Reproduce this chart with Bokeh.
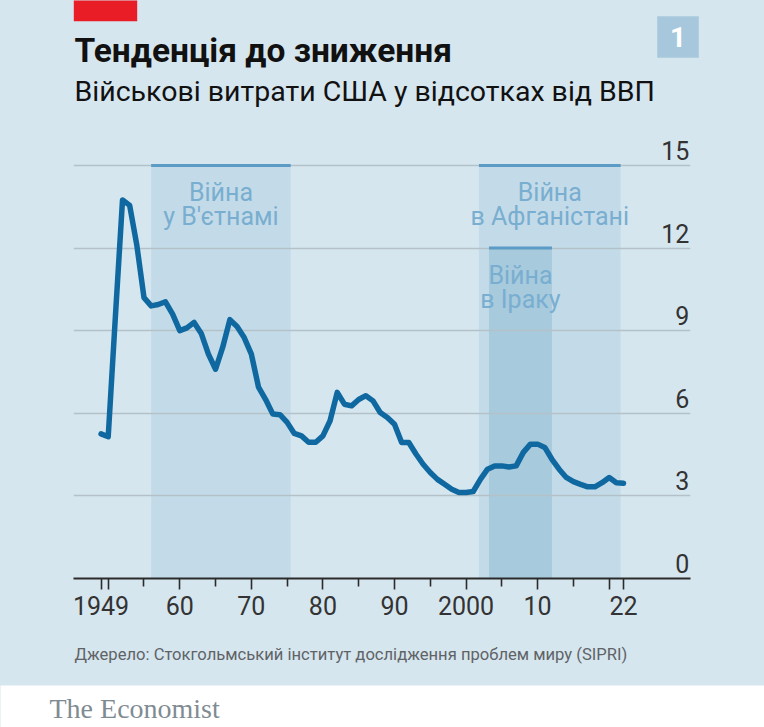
from bokeh.plotting import figure
from bokeh.layouts import column
from bokeh.models import Range1d, FixedTicker, Grid, ColumnDataSource
from bokeh.core.properties import value
from bokeh.embed import file_html
from bokeh.resources import INLINE

# ---------------- data ----------------
years = list(range(1949, 2023))
gdp_share = [
    5.25, 5.15, 9.5, 13.75, 13.55, 12.1, 10.2, 9.9, 9.95, 10.05,   # 1949-1958
    9.6, 9.0, 9.1, 9.3, 8.9, 8.15, 7.6, 8.4, 9.4, 9.15,             # 1959-1968
    8.75, 8.15, 6.95, 6.5, 5.97, 5.95, 5.67, 5.27, 5.18, 4.95,      # 1969-1978
    4.95, 5.18, 5.73, 6.76, 6.33, 6.27, 6.5, 6.64, 6.45, 6.03,      # 1979-1988
    5.85, 5.6, 4.94, 4.94, 4.52, 4.15, 3.85, 3.6, 3.42, 3.24,       # 1989-1998
    3.12, 3.12, 3.16, 3.6, 3.97, 4.09, 4.09, 4.05, 4.09, 4.58,      # 1999-2008
    4.88, 4.88, 4.76, 4.33, 3.97, 3.67, 3.52, 3.42, 3.33, 3.33,     # 2009-2018
    3.48, 3.67, 3.48, 3.46,                                         # 2019-2022
]

war_line1 = ["Війна", "Війна", "Війна"]
war_line2 = ["у В'єтнамі", "в Афганістані", "в Іраку"]
war_start = [1956.0, 2001.8, 2003.2]
war_end = [1975.5, 2021.6, 2012.0]
war_top = [15, 15, 12]

x_major_ticks = [1949, 1950, 1960, 1970, 1980, 1990, 2000, 2010, 2020, 2022]
x_major_labels = ["1949", "", "60", "70", "80", "90", "2000", "10", "", "22"]
x_minor_ticks = [1955, 1965, 1975, 1985, 1995, 2005, 2015]
y_ticks = [0, 3, 6, 9, 12, 15]
y_tick_labels = ["0", "3", "6", "9", "12", "15"]

title_text = "Тенденція до зниження"
subtitle_text = "Військові витрати США у відсотках від ВВП"
source_text = "Джерело: Стокгольмський інститут дослідження проблем миру (SIPRI)"
brand_text = "The Economist"
badge_text = "1"

# ---------------- style ----------------
BG = "#d6e6ef"
SHADE = "#c3dbe8"
SHADE_DARK = "#a7cadd"
TOPLINE = "#5b9bc6"
LINE = "#0f69a0"
GRID = "#b5c1c8"
WARTXT = "#79aed0"
FONT = "Roboto"
W = 764


def panel(height, y0, y1):
    f = figure(width=W, height=height, x_range=Range1d(0, W), y_range=Range1d(y1, y0),
               x_axis_type=None, y_axis_type=None, min_border=0, frame_align=False,
               output_backend="svg", toolbar_location=None,
               background_fill_color=BG, border_fill_color=BG, outline_line_color=None)
    f.xgrid.visible = False
    f.ygrid.visible = False
    return f


# ---------------- header ----------------
header = panel(125, 0, 125)
header.quad(left=[73.3], right=[136.7], top=[-2], bottom=[20.7], fill_color="#e91d25", line_color=None)
header.quad(left=[656.7], right=[698.3], top=[15.7], bottom=[57.3], fill_color="#a7c8dc", line_color=None)
header.text(x=[677.5], y=[36.5], text=[badge_text], text_font=value(FONT), text_font_style="bold",
            text_font_size="28px", text_color="white", text_align="center", text_baseline="alphabetic")
header.text(x=[74], y=[49.5], text=[title_text], text_font=value(FONT), text_font_style="bold",
            text_font_size="33.5px", text_color="#111111", text_baseline="alphabetic")
header.text(x=[74], y=[91], text=[subtitle_text], text_font=value(FONT),
            text_font_size="28.5px", text_color="#111111", text_baseline="alphabetic")

# ---------------- main chart ----------------
p = figure(width=W, height=510, x_range=Range1d(1945.15, 2031.36), y_range=Range1d(0, 16.27),
           y_axis_type=None, min_border_left=73, min_border_right=74, min_border_top=5,
           min_border_bottom=57, frame_align=False, output_backend="svg", toolbar_location=None,
           background_fill_color=BG, border_fill_color=BG, outline_line_color=None)
p.xgrid.visible = False

wars = ColumnDataSource(dict(
    left=war_start, right=war_end, top=war_top,
    center=[(a + b) / 2 for a, b in zip(war_start, war_end)],
    line1=war_line1, line2=war_line2,
    fill=[SHADE, SHADE, SHADE_DARK],
))
p.quad(left="left", right="right", top="top", bottom=0, fill_color="fill", line_color=None,
       source=wars, level="image")
p.add_layout(Grid(dimension=1, ticker=FixedTicker(ticks=y_ticks[1:]),
                  grid_line_color=GRID, grid_line_width=1.6))
p.segment(x0="left", x1="right", y0="top", y1="top", line_color=TOPLINE, line_width=3, source=wars)
p.text(x="center", y="top", text="line1", y_offset=27, source=wars, text_font=value(FONT),
       text_font_size="25px", text_color=WARTXT, text_align="center", text_baseline="alphabetic")
p.text(x="center", y="top", text="line2", y_offset=51, source=wars, text_font=value(FONT),
       text_font_size="25px", text_color=WARTXT, text_align="center", text_baseline="alphabetic")

p.line(years, gdp_share, line_width=5.5, line_color=LINE, line_join="round", line_cap="round")

# y tick labels at the right end, sitting on the gridlines
p.text(x=[2031.2] * len(y_ticks), y=y_ticks, text=y_tick_labels, y_offset=-15,
       text_font=value(FONT), text_font_size="25px", text_color="#333333",
       text_align="right", text_baseline="alphabetic")

xa = p.xaxis[0]
xa.ticker = FixedTicker(ticks=x_major_ticks, minor_ticks=x_minor_ticks)
xa.major_label_overrides = {t: l for t, l in zip(x_major_ticks, x_major_labels)}
xa.axis_line_color = "#2b2b2b"
xa.axis_line_width = 2
xa.major_tick_line_color = "#2b2b2b"
xa.major_tick_line_width = 1.6
xa.minor_tick_line_color = "#2b2b2b"
xa.minor_tick_line_width = 1.6
xa.major_tick_in = 0
xa.major_tick_out = 11
xa.minor_tick_in = 0
xa.minor_tick_out = 8
xa.major_label_standoff = 6
xa.major_label_text_font = FONT
xa.major_label_text_font_size = "25px"
xa.major_label_text_color = "#333333"

# ---------------- footer ----------------
footer = panel(92, 635, 727)
footer.quad(left=[-10], right=[W + 10], top=[685], bottom=[740], fill_color="white", line_color=None)
footer.text(x=[74], y=[653.5], text=[source_text], text_font=value(FONT), text_font_size="16.6px",
            text_color="#5f6366", text_baseline="alphabetic")
footer.text(x=[49], y=[707.5], text=[brand_text], text_font=value("Liberation Serif"),
            text_font_size="28px", text_color="#7f8b93", text_baseline="alphabetic")

layout = column(header, p, footer, spacing=0, styles={"background-color": BG})
open("out.html", "w").write(file_html(layout, INLINE))
